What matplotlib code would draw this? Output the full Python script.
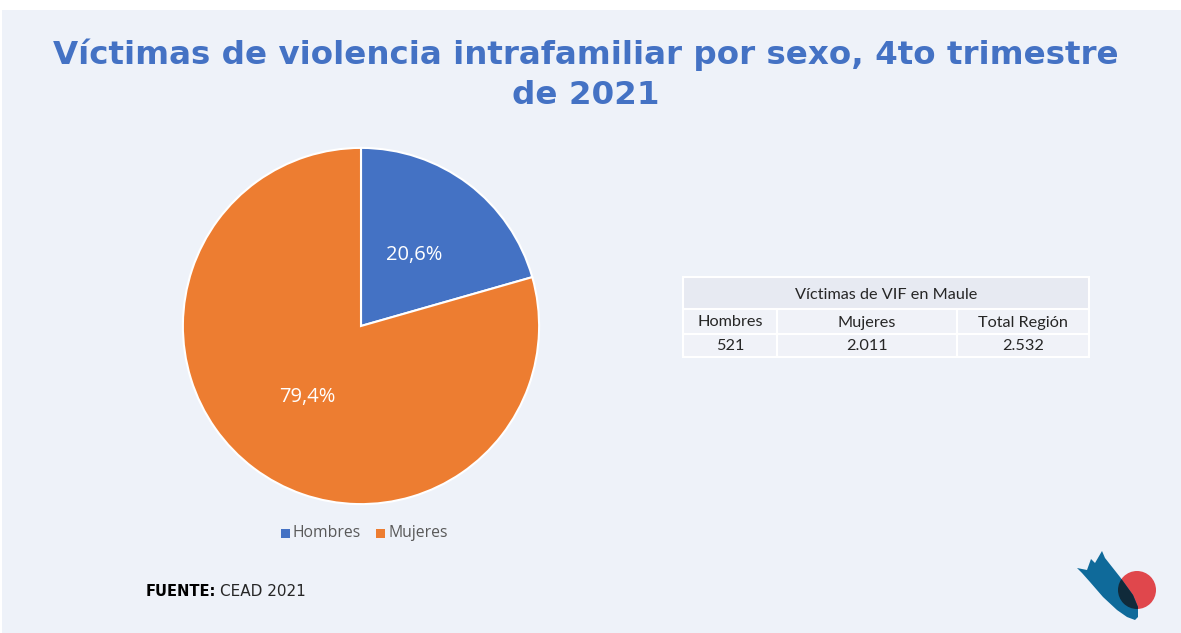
import matplotlib
matplotlib.use("Agg")
import matplotlib.pyplot as plt
from matplotlib.patches import Rectangle, Polygon, Circle

# ---- data ----
categories = ["Hombres", "Mujeres"]
values = [521, 2011]
colors = ["#4472C4", "#ED7D31"]
title_lines = ["Víctimas de violencia intrafamiliar por sexo, 4to trimestre", "de 2021"]
table_title = "Víctimas de VIF en Maule"
table_headers = ["Hombres", "Mujeres", "Total Región"]
table_values = ["521", "2.011", "2.532"]
source_bold = "FUENTE:"
source_text = "CEAD 2021"

W, H = 1181, 633
fig = plt.figure(figsize=(W / 100, H / 100), dpi=100)
fig.patch.set_facecolor("white")

# overlay axes in pixel coordinates
bg = fig.add_axes([0, 0, 1, 1])
bg.set_xlim(0, W)
bg.set_ylim(H, 0)
bg.axis("off")
bg.add_patch(Rectangle((2, 10), W - 2, H - 10, facecolor="#EEF2F9", edgecolor="none", zorder=0))

# title
for yy, line in zip([55, 95], title_lines):
    bg.text(586, yy, line, ha="center", va="center", fontsize=23.4, fontweight="bold",
            color="#4472C4", family="DejaVu Sans")

# pie
cx, cy, r = 361, 326, 179
pax = fig.add_axes([(cx - r) / W, (H - cy - r) / H, 2 * r / W, 2 * r / H])
wedges, texts, autotexts = pax.pie(
    values, colors=colors, startangle=90, counterclock=False,
    wedgeprops=dict(edgecolor="white", linewidth=1.5),
    autopct=lambda p: f"{p:.1f}%".replace(".", ","), pctdistance=0.5,
    textprops=dict(color="white", fontsize=14.5, family="Open Sans"))
pax.set_xlim(-1.005, 1.005)
pax.set_ylim(-1.005, 1.005)
pax.set_aspect("equal")

# legend
lx = [285, 380]
for x0, lab, col in zip(lx, categories, colors):
    bg.add_patch(Rectangle((x0 - 4.5, 528.5), 9, 9, facecolor=col, edgecolor="none"))
    bg.text(x0 + 8, 533, lab, ha="left", va="center", fontsize=11.3, color="#595959",
            family="Open Sans")

# table
col_edges = [683, 777, 957, 1089]
row_edges = [277, 309, 334, 357]
title_fc = "#E7EAF2"
cell_fc = "#F0F2F8"
bg.add_patch(Rectangle((col_edges[0], row_edges[0]), col_edges[-1] - col_edges[0],
                       row_edges[1] - row_edges[0], facecolor=title_fc,
                       edgecolor="white", linewidth=1.5))
bg.text((col_edges[0] + col_edges[-1]) / 2, (row_edges[0] + row_edges[1]) / 2 + 2,
        table_title, ha="center", va="center", fontsize=11.7, color="#262626", family="Lato")
for ri, row in enumerate([table_headers, table_values]):
    y0, y1 = row_edges[ri + 1], row_edges[ri + 2]
    for ci, txt in enumerate(row):
        x0, x1 = col_edges[ci], col_edges[ci + 1]
        bg.add_patch(Rectangle((x0, y0), x1 - x0, y1 - y0, facecolor=cell_fc,
                               edgecolor="white", linewidth=1.5))
        bg.text((x0 + x1) / 2, (y0 + y1) / 2 + 1, txt, ha="center", va="center",
                fontsize=11.7, color="#262626", family="Lato")

# source
bg.text(146, 592, source_bold, ha="left", va="center", fontsize=10.5,
        fontweight="bold", color="black", family="DejaVu Sans")
bg.text(220, 592, source_text, ha="left", va="center", fontsize=11,
        color="#262626", family="DejaVu Sans")

# logo (approximate)
blue_poly = [(1077, 568), (1087, 570), (1091, 559), (1095, 563), (1102, 551),
             (1105, 558), (1120, 577), (1133, 595), (1138, 607), (1138, 617),
             (1135, 620), (1127, 617), (1117, 610), (1103, 597), (1090, 582),
             (1082, 573)]
bg.add_patch(Polygon(blue_poly, closed=True, facecolor="#0F6A9A", edgecolor="none", zorder=3))
bg.add_patch(Circle((1137, 590), 19, facecolor="#E0474C", edgecolor="none", zorder=2))
circ = Circle((1137, 590), 19, transform=bg.transData)
dark = Polygon(blue_poly, closed=True, facecolor="#102A3A", edgecolor="none", zorder=4)
bg.add_patch(dark)
dark.set_clip_path(circ)

fig.savefig("out.png", dpi=100, facecolor=fig.get_facecolor())
